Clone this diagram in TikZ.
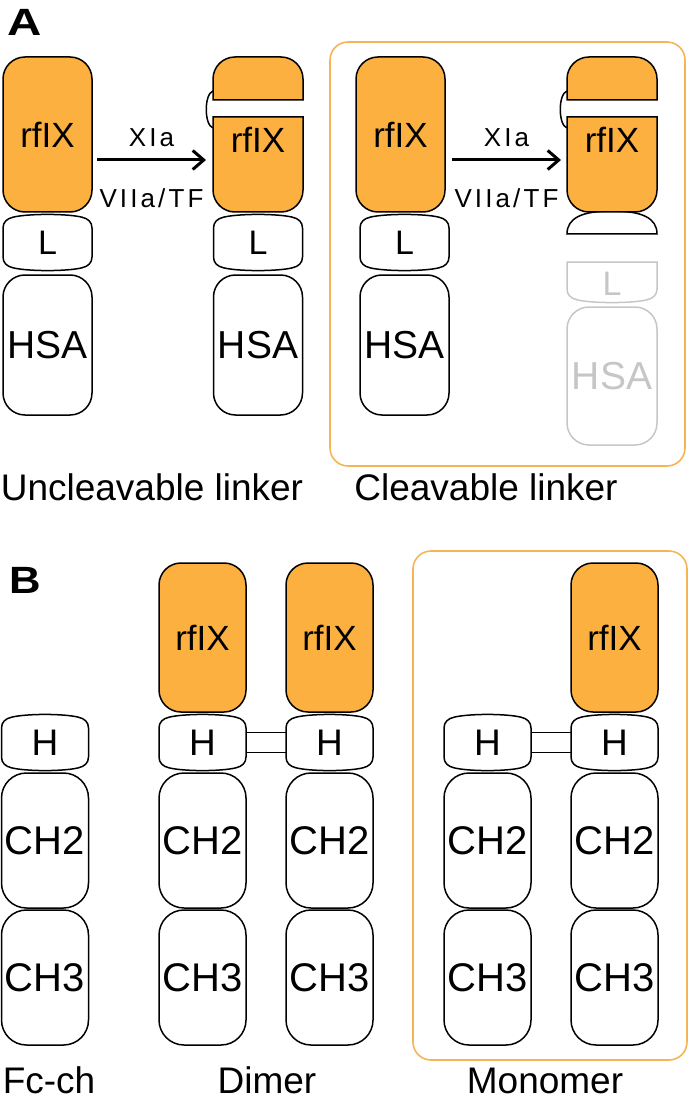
\documentclass[tikz,border=0pt]{standalone}
\usepackage{fontspec}
\setmainfont{Liberation Sans}
\newfontfamily\enzfont[LetterSpace=12]{Liberation Sans}
\usetikzlibrary{positioning,calc,arrows.meta}
\definecolor{fixorange}{RGB}{251,176,64}
\definecolor{frameorange}{RGB}{246,180,84}
\definecolor{cutgray}{RGB}{198,198,198}

% hinge / linker outline round a named node: #2 node, #3 width
\newcommand{\barrel}[3][]{%
  \begin{scope}[shift={(#2.north west)}]
    \draw[line width=1.5pt,#1] (0,-14) .. controls (0,-8) and (4,-4.6) .. (10,-3.2)
      .. controls (25,0.5) and (#3-25,0.5) .. (#3-10,-3.2)
      .. controls (#3-4,-4.6) and (#3,-8) .. (#3,-14)
      -- (#3,-43) .. controls (#3,-49) and (#3-4,-52.4) .. (#3-10,-53.8)
      .. controls (#3-25,-57.5) and (25,-57.5) .. (10,-53.8)
      .. controls (4,-52.4) and (0,-49) .. (0,-43) -- cycle;
  \end{scope}}

% rfIX cut by XIa: #1 left edge
\newcommand{\cleaved}[1]{%
  \draw[line width=1.5pt, fill=fixorange] (#1,-100) -- (#1,-79) arc[start angle=180, end angle=90, radius=22]
    -- (#1+68,-57) arc[start angle=90, end angle=0, radius=22] -- (#1+90,-100) -- cycle;
  \draw[line width=1.5pt, fill=fixorange] (#1,-117) -- (#1+90,-117) -- (#1+90,-190)
    arc[start angle=0, end angle=-90, radius=22] -- (#1+22,-212) arc[start angle=270, end angle=180, radius=22] -- cycle;
  \draw[line width=1.5pt] (#1,-91) .. controls (#1-9,-94) and (#1-9,-125) .. (#1,-128);}

\begin{document}
\begin{tikzpicture}[x=1pt, y=1pt, node distance=2pt,
    box/.style={rectangle, draw=black, line width=1.5pt, inner sep=0pt, outer sep=0pt, rounded corners=22pt},
    fixbox/.style={box, fill=fixorange, minimum width=89pt, minimum height=155pt, font=\fontsize{35}{35}\selectfont},
    fixboxb/.style={fixbox, minimum width=87pt, minimum height=149pt},
    hsabox/.style={box, fill=white, minimum width=89pt, minimum height=140pt, font=\fontsize{39}{39}\selectfont},
    chbox/.style={box, fill=white, minimum width=87pt, minimum height=135pt, rounded corners=25pt, font=\fontsize{40}{40}\selectfont},
    linkbox/.style={rectangle, inner sep=0pt, outer sep=0pt, minimum width=89pt, minimum height=57pt, font=\fontsize{34}{34}\selectfont},
    hbox/.style={linkbox, minimum width=87pt, font=\fontsize{37}{37}\selectfont},
    fixtext/.style={inner sep=0pt, font=\fontsize{35}{35}\selectfont},
    enz/.style={inner sep=0pt, font=\enzfont\fontsize{26}{26}\selectfont},
    react/.style={line width=3pt, -{Straight Barb[length=11pt, width=19pt]}},
    lbl/.style={inner sep=0pt, font=\fontsize{37}{37}\selectfont},
    panel/.style={inner sep=0pt, anchor=base west, font=\bfseries\fontsize{38}{38}\selectfont},
    frame/.style={draw=frameorange, line width=1.6pt, rounded corners=18pt},
    cut/.style={draw=cutgray, text=cutgray}]
\useasboundingbox (0,0) rectangle (689,-1099);

% A
\node[panel] at (7,-36) (panelA) {\scalebox{1.25}[1]{A}};
\draw[frame] (330,-42) rectangle (685,-466);

\node[fixbox] at (47.5,-134.5) (rfixA) {rfIX};
\node[linkbox, below=of rfixA] (linkA) {L};
\node[hsabox, below=4pt of linkA] (hsaA) {HSA};
\barrel{linkA}{89}

\cleaved{213}
\node[fixtext] at (258,-140) (rfixB) {rfIX};
\node[linkbox] at (258,-242.5) (linkB) {L};
\node[hsabox, below=4pt of linkB] (hsaB) {HSA};
\barrel{linkB}{89}
\coordinate (cutB) at (206,-160);
\draw[react] ([xshift=5pt,yshift=-25.5pt]rfixA.east) -- (cutB)
  node[enz, midway, anchor=base, yshift=13pt] (xiaone) {XIa}
  node[enz, midway, anchor=base, yshift=-48pt] (viiaone) {VIIa/TF};

\node[fixbox] at (400.5,-134.5) (rfixC) {rfIX};
\node[linkbox] at (404.5,-242.5) (linkC) {L};
\node[hsabox, below=4pt of linkC] (hsaC) {HSA};
\barrel{linkC}{89}

\draw[line width=1.5pt, fill=white] (567,-234) .. controls (567,-218) and (582,-211) .. (612,-211)
  .. controls (642,-211) and (657,-218) .. (657,-234) -- cycle;
\cleaved{567}
\node[fixtext] at (612,-140) (rfixD) {rfIX};
\coordinate (cutD) at (561,-160);
\draw[react] ([xshift=7pt,yshift=-25.5pt]rfixC.east) -- (cutD)
  node[enz, midway, anchor=base, yshift=13pt] (xiatwo) {XIa}
  node[enz, midway, anchor=base, yshift=-48pt] (viiatwo) {VIIa/TF};
\node[linkbox, text=cutgray, minimum width=90pt, minimum height=43pt] at (612,-283.5) (linkD) {L};
\begin{scope}[shift={(linkD.north west)}]
  \draw[line width=1.5pt, cutgray] (0,0) -- (90,0) -- (90,-27) .. controls (90,-33) and (86,-36.4) .. (80,-37.8)
    .. controls (65,-41.5) and (25,-41.5) .. (10,-37.8) .. controls (4,-36.4) and (0,-33) .. (0,-27) -- cycle;
\end{scope}
\node[hsabox, cut, minimum width=90pt, minimum height=138pt] at (612,-376) (hsaD) {HSA};

\node[lbl, anchor=base] at (152,-500) (uncleav) {Uncleavable linker};
\node[lbl, anchor=base] at (486,-500) (cleav) {Cleavable linker};

% B
\node[panel] at (9,-593) (panelB) {\scalebox{1.15}[1]{B}};
\draw[frame] (413,-551) rectangle (687,-1060);

\node[hbox] at (45,-742.5) (hfc) {H};
\node[chbox, below=of hfc] (chtwofc) {CH2};
\node[chbox, below=of chtwofc] (chthreefc) {CH3};
\barrel{hfc}{87}

\node[fixboxb] at (202.5,-637.5) (rfixdone) {rfIX};
\node[hbox, below=of rfixdone] (hdone) {H};
\node[chbox, below=of hdone] (chtwodone) {CH2};
\node[chbox, below=of chtwodone] (chthreedone) {CH3};
\barrel{hdone}{87}

\node[fixboxb] at (329.5,-637.5) (rfixdtwo) {rfIX};
\node[hbox, below=of rfixdtwo] (hdtwo) {H};
\node[chbox, below=of hdtwo] (chtwodtwo) {CH2};
\node[chbox, below=of chtwodtwo] (chthreedtwo) {CH3};
\barrel{hdtwo}{87}

\draw[line width=1.3pt] ([yshift=10pt]hdone.east) -- ([yshift=10pt]hdtwo.west);
\draw[line width=1.3pt] ([yshift=-10pt]hdone.east) -- ([yshift=-10pt]hdtwo.west);

\node[hbox] at (487.5,-742.5) (hmone) {H};
\node[chbox, below=of hmone] (chtwomone) {CH2};
\node[chbox, below=of chtwomone] (chthreemone) {CH3};
\barrel{hmone}{87}

\node[fixboxb] at (614.5,-637.5) (rfixmtwo) {rfIX};
\node[hbox, below=of rfixmtwo] (hmtwo) {H};
\node[chbox, below=of hmtwo] (chtwomtwo) {CH2};
\node[chbox, below=of chtwomtwo] (chthreemtwo) {CH3};
\barrel{hmtwo}{87}

\draw[line width=1.3pt] ([yshift=10pt]hmone.east) -- ([yshift=10pt]hmtwo.west);
\draw[line width=1.3pt] ([yshift=-10pt]hmone.east) -- ([yshift=-10pt]hmtwo.west);

\node[lbl, anchor=base] at (49,-1093) (fcch) {Fc-ch};
\node[lbl, anchor=base] at (267,-1093) (dimer) {Dimer};
\node[lbl, anchor=base] at (545,-1093) (monomer) {Monomer};
\end{tikzpicture}
\end{document}
